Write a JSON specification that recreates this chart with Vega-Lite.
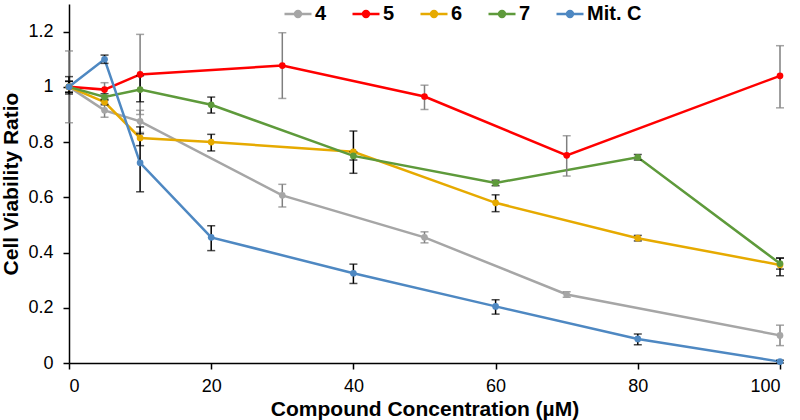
{
  "$schema": "https://vega.github.io/schema/vega-lite/v6.json",
  "width": 711,
  "height": 359,
  "autosize": "none",
  "padding": {"left": 69, "top": 4, "right": 20, "bottom": 57},
  "config": {
    "view": {"stroke": null},
    "font": "Liberation Sans",
    "axis": {"grid": false, "domainColor": "#000", "tickColor": "#000", "domainWidth": 1.5, "tickWidth": 1.5, "labelColor": "#000", "titleColor": "#000", "labelFont": "Liberation Sans", "titleFont": "Liberation Sans"}
  },
  "data": {"values": [
    {"series": "4", "x": 0, "y": 1.0, "lo": 0.87, "hi": 1.13},
    {"series": "4", "x": 5, "y": 0.915, "lo": 0.89, "hi": 0.94},
    {"series": "4", "x": 10, "y": 0.875, "lo": 0.835, "hi": 0.915},
    {"series": "4", "x": 30, "y": 0.607, "lo": 0.565, "hi": 0.647},
    {"series": "4", "x": 50, "y": 0.455, "lo": 0.435, "hi": 0.475},
    {"series": "4", "x": 70, "y": 0.248, "lo": 0.238, "hi": 0.258},
    {"series": "4", "x": 100, "y": 0.10, "lo": 0.063, "hi": 0.137},
    {"series": "5", "x": 0, "y": 1.0, "lo": 0.98, "hi": 1.02},
    {"series": "5", "x": 5, "y": 0.99, "lo": 0.965, "hi": 1.015},
    {"series": "5", "x": 10, "y": 1.045, "lo": 0.9, "hi": 1.19},
    {"series": "5", "x": 30, "y": 1.077, "lo": 0.958, "hi": 1.196},
    {"series": "5", "x": 50, "y": 0.965, "lo": 0.918, "hi": 1.006},
    {"series": "5", "x": 70, "y": 0.752, "lo": 0.677, "hi": 0.823},
    {"series": "5", "x": 100, "y": 1.04, "lo": 0.924, "hi": 1.149},
    {"series": "6", "x": 0, "y": 1.0, "lo": 0.98, "hi": 1.02},
    {"series": "6", "x": 5, "y": 0.945, "lo": 0.935, "hi": 0.955},
    {"series": "6", "x": 10, "y": 0.815, "lo": 0.787, "hi": 0.855},
    {"series": "6", "x": 20, "y": 0.80, "lo": 0.768, "hi": 0.828},
    {"series": "6", "x": 40, "y": 0.765, "lo": 0.687, "hi": 0.84},
    {"series": "6", "x": 60, "y": 0.58, "lo": 0.548, "hi": 0.609},
    {"series": "6", "x": 80, "y": 0.452, "lo": 0.442, "hi": 0.462},
    {"series": "6", "x": 100, "y": 0.355, "lo": 0.316, "hi": 0.38},
    {"series": "7", "x": 0, "y": 1.0, "lo": 0.974, "hi": 1.037},
    {"series": "7", "x": 5, "y": 0.963, "lo": 0.951, "hi": 0.975},
    {"series": "7", "x": 10, "y": 0.99, "lo": 0.946, "hi": 1.04},
    {"series": "7", "x": 20, "y": 0.935, "lo": 0.905, "hi": 0.963},
    {"series": "7", "x": 40, "y": 0.75, "lo": 0.735, "hi": 0.765},
    {"series": "7", "x": 60, "y": 0.652, "lo": 0.642, "hi": 0.662},
    {"series": "7", "x": 80, "y": 0.745, "lo": 0.735, "hi": 0.755},
    {"series": "7", "x": 100, "y": 0.36, "lo": 0.34, "hi": 0.38},
    {"series": "Mit. C", "x": 0, "y": 1.0, "lo": 0.98, "hi": 1.02},
    {"series": "Mit. C", "x": 5, "y": 1.10, "lo": 1.085, "hi": 1.115},
    {"series": "Mit. C", "x": 10, "y": 0.725, "lo": 0.62, "hi": 0.83},
    {"series": "Mit. C", "x": 20, "y": 0.455, "lo": 0.407, "hi": 0.497},
    {"series": "Mit. C", "x": 40, "y": 0.325, "lo": 0.288, "hi": 0.358},
    {"series": "Mit. C", "x": 60, "y": 0.205, "lo": 0.177, "hi": 0.229},
    {"series": "Mit. C", "x": 80, "y": 0.087, "lo": 0.066, "hi": 0.105},
    {"series": "Mit. C", "x": 100, "y": 0.005, "lo": 0.0, "hi": 0.01}
  ]},
  "encoding": {
    "x": {"field": "x", "type": "quantitative",
      "scale": {"domain": [0, 100], "nice": false},
      "axis": {"values": [0, 20, 40, 60, 80, 100], "tickSize": 6, "labelPadding": 8, "labelFontSize": 18, "title": "Compound Concentration (µM)", "titleFontSize": 21, "titleFontWeight": "bold", "titlePadding": 3}}
  },
  "layer": [
    {
      "mark": {"type": "line", "strokeWidth": 2.5},
      "encoding": {
        "y": {"field": "y", "type": "quantitative", "title": "Cell Viability Ratio",
          "scale": {"domain": [0, 1.3], "nice": false},
          "axis": {"values": [0, 0.2, 0.4, 0.6, 0.8, 1, 1.2], "format": "~g", "tickSize": 6, "labelPadding": 10, "labelFontSize": 18, "titleFontSize": 21, "titleFontWeight": "bold", "titlePadding": 6}},
        "color": {"field": "series", "type": "nominal",
          "scale": {"domain": ["4", "5", "6", "7", "Mit. C"], "range": ["#A6A6A6", "#FF0000", "#E6AA00", "#5E9A3B", "#4E88C2"]},
          "legend": {"orient": "none", "legendX": 214, "legendY": -5, "direction": "horizontal", "columns": 5, "columnPadding": 20, "title": null,
            "labelFontSize": 20, "labelFontWeight": "bold", "labelColor": "#000", "labelOffset": 2,
            "symbolType": "M-1,0L1,0M0.22,0A0.22,0.22,0,1,1,-0.22,0A0.22,0.22,0,1,1,0.22,0",
            "symbolSize": 729, "symbolStrokeWidth": 2.5,
            "encode": {"symbols": {"update": {"fill": {"scale": "color", "field": "value"}, "stroke": {"scale": "color", "field": "value"}}}}}}
      }
    },
    {
      "transform": [{"filter": "datum.series == '4' || datum.series == '5'"}],
      "mark": {"type": "errorbar", "color": "#7F7F7F", "ticks": {"size": 8, "thickness": 1.5}, "rule": {"strokeWidth": 1.5}},
      "encoding": {
        "y": {"field": "lo", "type": "quantitative", "title": "Cell Viability Ratio"},
        "y2": {"field": "hi"}
      }
    },
    {
      "transform": [{"filter": "datum.series != '4' && datum.series != '5'"}],
      "mark": {"type": "errorbar", "color": "#000000", "ticks": {"size": 8, "thickness": 1.5}, "rule": {"strokeWidth": 1.5}},
      "encoding": {
        "y": {"field": "lo", "type": "quantitative", "title": "Cell Viability Ratio"},
        "y2": {"field": "hi"}
      }
    },
    {
      "mark": {"type": "point", "filled": true, "size": 45, "opacity": 1},
      "encoding": {
        "y": {"field": "y", "type": "quantitative", "title": "Cell Viability Ratio"},
        "color": {"field": "series", "type": "nominal"}
      }
    }
  ]
}
